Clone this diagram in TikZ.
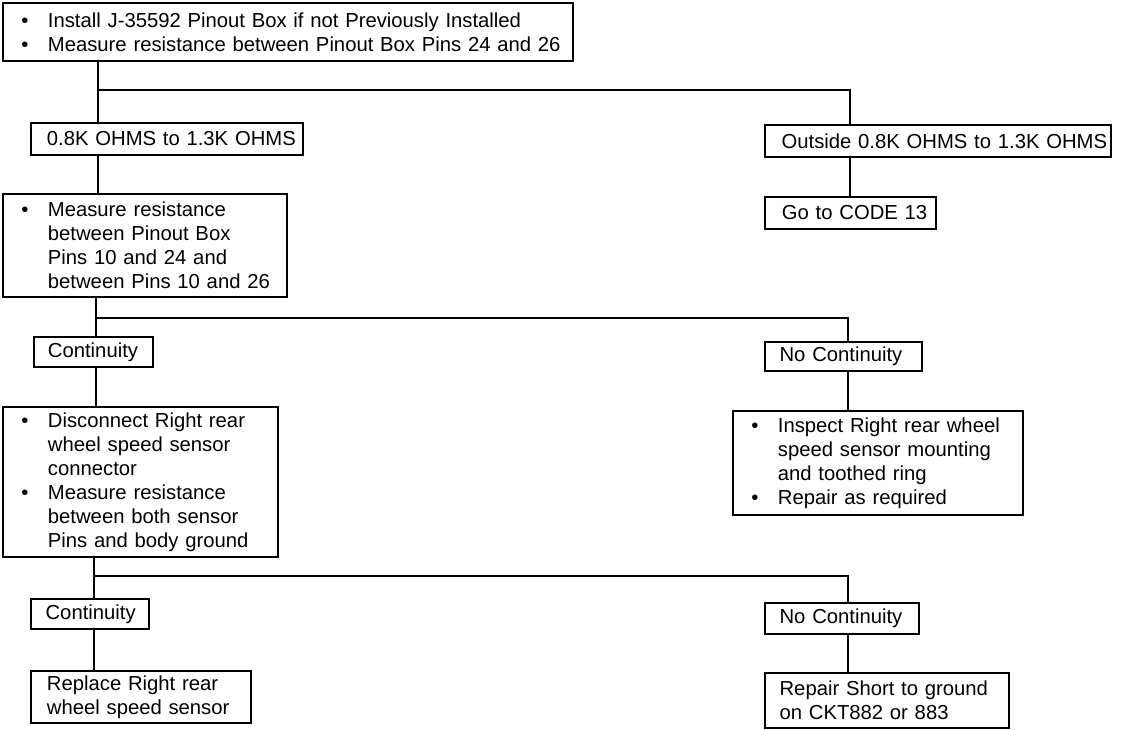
\documentclass[tikz,border=0pt]{standalone}
\usepackage{fontspec}
\setmainfont{Liberation Sans}
\newcommand{\bul}{\makebox[21pt][l]{\hspace{1pt}•}}
\newcommand{\ind}{\hspace*{21pt}}
\newcommand{\li}[1]{\mbox{#1}}
\begin{document}
\begin{tikzpicture}[x=0.75pt,y=-0.75pt,
  box/.style={draw, line width=1.4pt, rectangle, anchor=north west, align=left,
    inner ysep=0pt, font=\fontsize{15.2pt}{18pt}\selectfont},
  conn/.style={line width=1.4pt}]
\useasboundingbox (0,0) rectangle (1136,730);
% boxes
\node[box, minimum width=427.5pt, minimum height=43.5pt, inner xsep=12.75pt, text width=402pt] (top) at (2,2)
  {\li{\bul Install J-35592 Pinout Box if not Previously Installed}\\
   \li{\bul Measure resistance between Pinout Box Pins 24 and 26}};
\node[box, minimum width=204pt, minimum height=24pt, inner xsep=12pt, text width=180pt] (ohms) at (30,122)
  {\li{0.8K OHMS to 1.3K OHMS}};
\node[box, minimum width=259.5pt, minimum height=24pt, inner xsep=12.5pt, text width=234.5pt] (outside) at (764,124)
  {\li{Outside 0.8K OHMS to 1.3K OHMS}};
\node[box, minimum width=128.25pt, minimum height=24pt, inner xsep=12.75pt, text width=102.75pt] (code) at (764,196)
  {\li{Go to CODE 13}};
\node[box, minimum width=213pt, minimum height=77.25pt, inner xsep=12.75pt, text width=187.5pt] (meas) at (2,193)
  {\li{\bul Measure resistance}\\ \li{\ind between Pinout Box}\\ \li{\ind Pins 10 and 24 and}\\ \li{\ind between Pins 10 and 26}};
\node[box, minimum width=89.25pt, minimum height=22.5pt, inner xsep=10.5pt, text width=68.25pt] (cont1) at (33,336)
  {\li{Continuity}};
\node[box, minimum width=117.75pt, minimum height=21.75pt, inner xsep=11pt, text width=95.75pt] (nocont1) at (764,341)
  {\li{No Continuity}};
\node[box, minimum width=217.5pt, minimum height=78pt, inner xsep=12.75pt, text width=192pt] (inspect) at (732,410)
  {\li{\bul Inspect Right rear wheel}\\ \li{\ind speed sensor mounting}\\ \li{\ind and toothed ring}\\ \li{\bul Repair as required}};
\node[box, minimum width=206.25pt, minimum height=112.5pt, inner xsep=12.75pt, text width=180.75pt] (disc) at (2,406)
  {\li{\bul Disconnect Right rear}\\ \li{\ind wheel speed sensor}\\ \li{\ind connector}\\ \li{\bul Measure resistance}\\ \li{\ind between both sensor}\\ \li{\ind Pins and body ground}};
\node[box, minimum width=88.5pt, minimum height=22.5pt, inner xsep=11pt, text width=66.5pt] (cont2) at (30,598)
  {\li{Continuity}};
\node[box, minimum width=115.5pt, minimum height=23.25pt, inner xsep=11pt, text width=93.5pt] (nocont2) at (764,602)
  {\li{No Continuity}};
\node[box, minimum width=165pt, minimum height=39pt, inner xsep=12pt, text width=141pt] (replace) at (30,670)
  {\li{Replace Right rear}\\ \li{wheel speed sensor}};
\node[box, minimum width=183pt, minimum height=41.25pt, inner xsep=11pt, text width=161pt] (repair) at (764,672)
  {\li{Repair Short to ground}\\ \li{on CKT882 or 883}};
% junctions
\coordinate (b1) at (98,90);  \coordinate (b1r) at (850,90);
\coordinate (b2) at (96,318); \coordinate (b2r) at (848,318);
\coordinate (b3) at (94,576); \coordinate (b3r) at (848,576);
% connectors
\draw[conn] (top.south -| b1) -- (ohms.north -| b1);
\draw[conn] (b1) -- (b1r) -- (outside.north -| b1r);
\draw[conn] (outside.south -| b1r) -- (code.north -| b1r);
\draw[conn] (ohms.south -| b1) -- (meas.north -| b1);
\draw[conn] (meas.south -| b2) -- (cont1.north -| b2);
\draw[conn] (b2) -- (b2r) -- (nocont1.north -| b2r);
\draw[conn] (nocont1.south -| b2r) -- (inspect.north -| b2r);
\draw[conn] (cont1.south -| b2) -- (disc.north -| b2);
\draw[conn] (disc.south -| b3) -- (cont2.north -| b3);
\draw[conn] (b3) -- (b3r) -- (nocont2.north -| b3r);
\draw[conn] (cont2.south -| b3) -- (replace.north -| b3);
\draw[conn] (nocont2.south -| b3r) -- (repair.north -| b3r);
\end{tikzpicture}
\end{document}
